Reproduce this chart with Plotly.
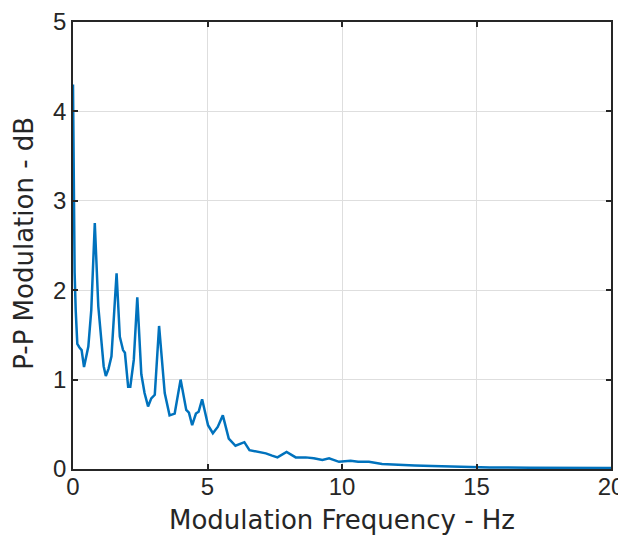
import plotly.graph_objects as go

freq_hz = [0.0, 0.03, 0.06, 0.1, 0.16, 0.24, 0.32, 0.41, 0.5, 0.57, 0.68, 0.81, 0.94, 1.06, 1.14, 1.22,
           1.32, 1.43, 1.62, 1.74, 1.86, 1.93, 2.05, 2.13, 2.26, 2.39, 2.54, 2.66, 2.79, 2.91, 3.04,
           3.2, 3.41, 3.59, 3.78, 4.0, 4.21, 4.31, 4.43, 4.57, 4.67, 4.8, 5.02, 5.2, 5.38, 5.57,
           5.79, 6.04, 6.2, 6.37, 6.56, 6.86, 7.17, 7.4, 7.6, 7.94, 8.28, 8.65, 8.95, 9.27, 9.52,
           9.89, 10.32, 10.6, 10.88, 11.0, 11.49, 12.1, 12.7, 13.35, 14.0, 14.58, 15.5, 17.0, 18.5, 20.0]
pp_mod_db = [4.3, 3.1, 2.2, 1.78, 1.4, 1.36, 1.33, 1.14, 1.25, 1.37, 1.78, 2.75, 1.82, 1.37, 1.15, 1.04,
             1.12, 1.26, 2.19, 1.48, 1.33, 1.30, 0.92, 0.92, 1.22, 1.92, 1.06, 0.85, 0.70, 0.79, 0.83,
             1.60, 0.85, 0.60, 0.62, 1.0, 0.66, 0.63, 0.49, 0.62, 0.64, 0.78, 0.49, 0.40, 0.47, 0.60,
             0.34, 0.26, 0.28, 0.30, 0.21, 0.19, 0.175, 0.15, 0.13, 0.19, 0.13, 0.13, 0.12, 0.10, 0.12,
             0.08, 0.093, 0.08, 0.075, 0.08, 0.056, 0.045, 0.04, 0.034, 0.028, 0.022, 0.018, 0.015, 0.012, 0.01]

x_ticks = [0, 5, 10, 15, 20]
y_ticks = [0, 1, 2, 3, 4, 5]
x_title = "Modulation Frequency - Hz"
y_title = "P-P Modulation - dB"

fig = go.Figure()
fig.add_trace(go.Scatter(x=freq_hz, y=pp_mod_db, mode="lines",
                         line=dict(color="#0072BD", width=2.5), showlegend=False))

axis_common = dict(
    showline=True, linecolor="#262626", linewidth=1.5, mirror="ticks",
    ticks="inside", ticklen=5, tickwidth=1.5, tickcolor="#262626",
    showgrid=True, gridcolor="#dedede", gridwidth=1.2, zeroline=False, automargin=False,
    tickfont=dict(family="Liberation Sans, Arial, sans-serif", size=24, color="#262626"),
)
title_font = dict(family="DejaVu Sans, sans-serif", size=26, color="#262626")

# page body has an 8px default margin, so the figure is sized to fit the 626x538 window
fig.update_layout(
    width=618, height=530,
    margin=dict(l=65, r=15, t=14, b=69),
    paper_bgcolor="white", plot_bgcolor="white",
    xaxis=dict(range=[0, 20], tickvals=x_ticks, ticklabelstandoff=-5, **axis_common),
    yaxis=dict(range=[0, 5], tickvals=y_ticks, **axis_common),
    annotations=[
        dict(text=x_title, xref="paper", yref="paper", x=0.5, y=-0.114,
             xanchor="center", yanchor="middle", showarrow=False, font=title_font),
        dict(text=y_title, xref="paper", yref="paper", x=-0.09, y=0.505, textangle=-90,
             xanchor="center", yanchor="middle", showarrow=False, font=title_font),
    ],
)

fig.write_html("out.html")
